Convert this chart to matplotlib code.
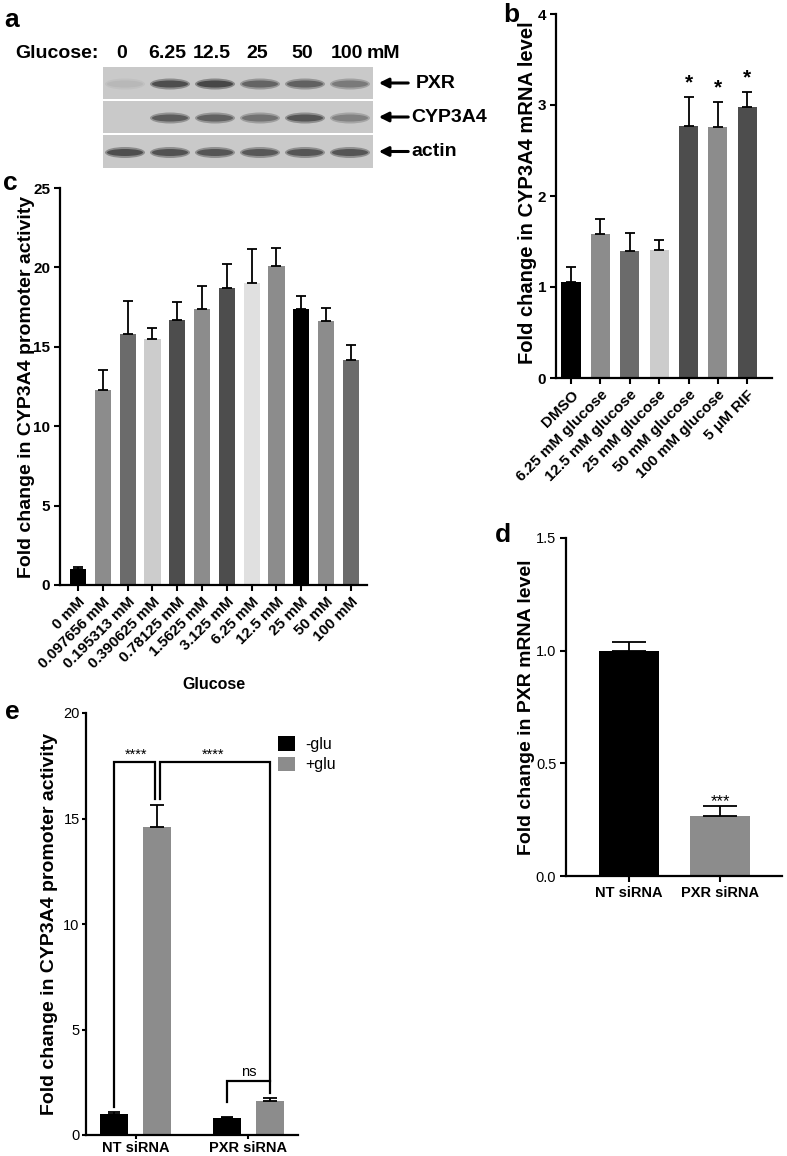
import numpy as np
import matplotlib
matplotlib.use("Agg")
import matplotlib.pyplot as plt
from matplotlib.patches import Ellipse, Rectangle

plt.rcParams['font.family'] = ['Liberation Sans', 'DejaVu Sans']

W, H = 787, 1156  # figure size in pixels (dpi 100)

# ---- panel a: western blot, band strength per lane (0 = no band, 1 = darkest)
lane_labels = ["0", "6.25", "12.5", "25", "50", "100"]
blot_rows = ["PXR", "CYP3A4", "actin"]
pxr_bands = [0.12, 0.85, 0.9, 0.7, 0.72, 0.55]
cyp_bands = [0.0, 0.75, 0.72, 0.6, 0.8, 0.5]
actin_bands = [0.85, 0.82, 0.8, 0.78, 0.8, 0.8]

# ---- panel b: CYP3A4 mRNA
b_labels = ["DMSO", "6.25 mM glucose", "12.5 mM glucose", "25 mM glucose",
            "50 mM glucose", "100 mM glucose", "5 \u03bcM RIF"]
b_mean = [1.05, 1.58, 1.40, 1.41, 2.77, 2.76, 2.98]
b_err = [0.17, 0.17, 0.19, 0.11, 0.32, 0.27, 0.16]
b_sig = ["", "", "", "", "*", "*", "*"]
b_colors = ["#000000", "#8c8c8c", "#6b6b6b", "#cccccc", "#4d4d4d", "#8c8c8c", "#4d4d4d"]

# ---- panel c: CYP3A4 promoter activity vs glucose
c_labels = ["0 mM", "0.097656 mM", "0.195313 mM", "0.390625 mM", "0.78125 mM",
            "1.5625 mM", "3.125 mM", "6.25 mM", "12.5 mM", "25 mM", "50 mM", "100 mM"]
c_mean = [1.0, 12.3, 15.8, 15.5, 16.7, 17.4, 18.7, 19.0, 20.1, 17.4, 16.65, 14.2]
c_err = [0.12, 1.25, 2.1, 0.7, 1.1, 1.4, 1.5, 2.15, 1.15, 0.8, 0.8, 0.9]
c_colors = ["#000000", "#8c8c8c", "#6b6b6b", "#cccccc", "#4d4d4d", "#8c8c8c",
            "#4d4d4d", "#e0e0e0", "#8c8c8c", "#000000", "#8c8c8c", "#6b6b6b"]

# ---- panel d: PXR mRNA after knockdown
d_labels = ["NT siRNA", "PXR siRNA"]
d_mean = [1.0, 0.265]
d_err = [0.04, 0.045]

# ---- panel e: promoter activity with/without glucose
e_groups = ["NT siRNA", "PXR siRNA"]
e_minus = [0.98, 0.82]
e_minus_err = [0.09, 0.05]
e_plus = [14.58, 1.61]
e_plus_err = [1.08, 0.14]


fig = plt.figure(figsize=(W / 100, H / 100), dpi=100)


def px_axes(left, top, right, bottom):
    # axes placed by pixel edges (top-left origin)
    return fig.add_axes([left / W, 1 - bottom / H, (right - left) / W, (bottom - top) / H])


def style(ax, bold=True, size=10.5, length=4, pad=3):
    for s in ["top", "right"]:
        ax.spines[s].set_visible(False)
    for s in ["left", "bottom"]:
        ax.spines[s].set_linewidth(1.6)
    ax.tick_params(width=1.5, length=length, pad=pad, direction="out", labelsize=size)
    if bold:
        for t in ax.get_yticklabels():
            t.set_fontweight("bold")


# overlay in pixel coordinates for the blot and panel letters
ov = fig.add_axes([0, 0, 1, 1])
ov.set_xlim(0, W)
ov.set_ylim(H, 0)
ov.axis("off")

lane_x = 125 + 45 * np.arange(len(lane_labels))
row_spans = [(67, 99), (101, 133), (135, 168)]
bg = np.array([0.79, 0.79, 0.79])
dark = np.array([0.22, 0.22, 0.22])
for (top, bot), bands, name in zip(row_spans, [pxr_bands, cyp_bands, actin_bands], blot_rows):
    ov.add_patch(Rectangle((103, top), 270, bot - top, color=bg, lw=0))
    yc = (top + bot) / 2 + 1
    for lx, v in zip(lane_x, bands):
        if v <= 0:
            continue
        col = bg * (1 - v) + dark * v
        ov.add_patch(Ellipse((lx, yc), 40, 11, color=bg * (1 - 0.5 * v) + dark * 0.5 * v, lw=0))
        ov.add_patch(Ellipse((lx, yc), 36, 7, color=col, lw=0))
    ov.annotate("", xy=(376, yc - 1), xytext=(411, yc - 1),
                arrowprops=dict(arrowstyle="-|>", color="black", lw=2.2, mutation_scale=14))
    ov.text(416 if name == "PXR" else 411, yc - 1, name, fontsize=14, fontweight="bold",
            va="center", ha="left")

ov.text(15, 53, "Glucose:", fontsize=14, fontweight="bold", va="center", ha="left")
for lx, lab in zip(lane_x, lane_labels):
    ov.text(lx - 3, 53, lab, fontsize=14, fontweight="bold", va="center", ha="center")
ov.text(367, 53, "mM", fontsize=14, fontweight="bold", va="center", ha="left")

for letter, (x, y) in zip("abcde", [(12, 20), (511, 15), (10, 183), (503, 535), (12, 712)]):
    ov.text(x, y, letter, fontsize=19, fontweight="bold", va="center", ha="center")

# ---- panel b
axb = px_axes(556, 14, 772, 378)
xb = np.arange(len(b_mean))
axb.bar(xb, b_mean, width=0.65, color=b_colors)
axb.errorbar(xb, b_mean, yerr=[np.zeros(len(b_err)), b_err], fmt="none",
             ecolor="black", elinewidth=1.3, capsize=3.5, capthick=1.3)
for x, m, e, s in zip(xb, b_mean, b_err, b_sig):
    if s:
        axb.text(x, m + e + 0.05, s, ha="center", va="bottom", fontsize=15, fontweight="bold")
axb.set_xlim(-0.51, len(b_mean) - 1 + 0.84)
axb.set_ylim(0, 4)
axb.set_yticks([0, 1, 2, 3, 4])
axb.set_xticks(xb)
axb.set_xticklabels(b_labels, rotation=45, ha="right", rotation_mode="anchor",
                    fontweight="bold", fontsize=12)
style(axb, size=11)
axb.set_ylabel("Fold change in CYP3A4 mRNA level", fontsize=14.5, fontweight="bold")
axb.yaxis.set_label_coords(-0.088, 0.51)

# ---- panel c
axc = px_axes(60, 188, 367, 585)
xc = np.arange(len(c_mean))
axc.bar(xc, c_mean, width=0.65, color=c_colors)
axc.errorbar(xc, c_mean, yerr=[np.zeros(len(c_err)), c_err], fmt="none",
             ecolor="black", elinewidth=1.3, capsize=3.5, capthick=1.3)
axc.set_xlim(-0.73, len(c_mean) - 1 + 0.65)
axc.set_ylim(0, 25)
axc.set_yticks([0, 5, 10, 15, 20, 25])
axc.set_xticks(xc)
axc.set_xticklabels(c_labels, rotation=45, ha="right", rotation_mode="anchor",
                    fontweight="bold", fontsize=11.5)
style(axc, size=11)
axc.set_ylabel("Fold change in CYP3A4 promoter activity", fontsize=14, fontweight="bold")
axc.yaxis.set_label_coords(-0.081, 0.5)
axc.set_xlabel("Glucose", fontsize=11.5, fontweight="bold")
axc.xaxis.set_label_coords(0.5, -0.232)

# ---- panel d
axd = px_axes(566, 538, 782, 876)
xd = np.arange(len(d_mean))
axd.bar(xd, d_mean, width=0.66, color=["#000000", "#8c8c8c"])
axd.errorbar(xd, d_mean, yerr=[np.zeros(len(d_err)), d_err], fmt="none",
             ecolor="black", elinewidth=1.3, capsize=12, capthick=1.3)
axd.text(xd[1], d_mean[1] + d_err[1] - 0.012, "***", ha="center", va="bottom", fontsize=12)
axd.set_xlim(-0.69, 1.68)
axd.set_ylim(0, 1.5)
axd.set_yticks([0, 0.5, 1.0, 1.5])
axd.set_yticklabels(["0.0", "0.5", "1.0", "1.5"])
axd.set_xticks(xd)
axd.set_xticklabels(d_labels, fontweight="bold", fontsize=10.5)
style(axd, bold=False, size=10.5)
axd.set_ylabel("Fold change in PXR mRNA level", fontsize=14, fontweight="bold")
axd.yaxis.set_label_coords(-0.144, 0.5)

# ---- panel e
axe = px_axes(86, 713, 298, 1135)
xe = np.arange(len(e_groups))
off = 0.19
axe.bar(xe - off, e_minus, width=0.25, color="#000000", label="-glu")
axe.bar(xe + off, e_plus, width=0.25, color="#8c8c8c", label="+glu")
axe.errorbar(xe - off, e_minus, yerr=[np.zeros(2), e_minus_err], fmt="none",
             ecolor="black", elinewidth=1.3, capsize=4.5, capthick=1.3)
axe.errorbar(xe + off, e_plus, yerr=[np.zeros(2), e_plus_err], fmt="none",
             ecolor="black", elinewidth=1.3, capsize=4.8, capthick=1.3)

# significance brackets
tip_nm = e_minus[0] + e_minus_err[0] + 0.25
tip_np = e_plus[0] + e_plus_err[0] + 0.25
tip_pm = e_minus[1] + e_minus_err[1] + 0.68
tip_pp = e_plus[1] + e_plus_err[1] + 0.25
top1 = e_plus[0] + e_plus_err[0] + 2.0
top_ns = e_plus[1] + e_plus_err[1] + 0.8
gap = 0.022
bk = dict(color="black", lw=1.6, solid_joinstyle="miter")
axe.plot([xe[0] - off, xe[0] - off, xe[0] + off - gap, xe[0] + off - gap],
         [tip_nm, top1, top1, tip_np], **bk)
axe.plot([xe[0] + off + gap, xe[0] + off + gap, xe[1] + off, xe[1] + off],
         [tip_np, top1, top1, tip_pp], **bk)
axe.plot([xe[1] - off, xe[1] - off, xe[1] + off], [tip_pm, top_ns, top_ns], **bk)
axe.text(xe[0], top1 + 0.05, "****", ha="center", va="bottom", fontsize=10.5)
axe.text((xe[0] + off + xe[1] + off) / 2, top1 + 0.05, "****", ha="center", va="bottom", fontsize=10.5)
axe.text(xe[1], top_ns + 0.1, "ns", ha="center", va="bottom", fontsize=10.5)

axe.set_xlim(-0.44, 1.44)
axe.set_ylim(0, 20)
axe.set_yticks([0, 5, 10, 15, 20])
axe.set_xticks(xe)
axe.set_xticklabels(e_groups, fontweight="bold", fontsize=10.5)
style(axe, bold=False, size=10.5, length=3, pad=1.5)
axe.set_ylabel("Fold change in CYP3A4 promoter activity", fontsize=14, fontweight="bold")
axe.yaxis.set_label_coords(-0.132, 0.5)
axe.legend(loc="upper left", bbox_to_anchor=(0.905, 0.945), frameon=False, fontsize=11.5,
           handlelength=1.1, handleheight=1.0, handletextpad=0.6, labelspacing=0.3,
           borderaxespad=0, borderpad=0)

fig.savefig("out.png", dpi=100)
